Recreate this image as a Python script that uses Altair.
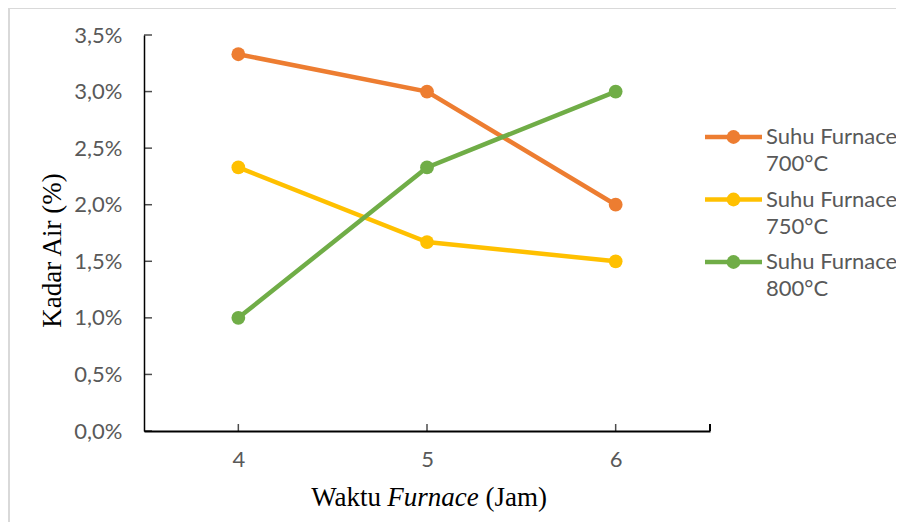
import altair as alt
import pandas as pd

# ---- data ----
waktu = ["4", "5", "6"]
series = ["Suhu Furnace 700°C", "Suhu Furnace 750°C", "Suhu Furnace 800°C"]
legend_line1 = ["Suhu Furnace", "Suhu Furnace", "Suhu Furnace"]
legend_line2 = ["700°C", "750°C", "800°C"]
kadar_700 = [0.0333, 0.0300, 0.0200]
kadar_750 = [0.0233, 0.0167, 0.0150]
kadar_800 = [0.0100, 0.0233, 0.0300]
y_ticks = [0.0, 0.005, 0.010, 0.015, 0.020, 0.025, 0.030, 0.035]
colors = ["#ED7D31", "#FFC000", "#70AD47"]

rows = []
for name, vals in zip(series, [kadar_700, kadar_750, kadar_800]):
    for w, v in zip(waktu, vals):
        rows.append({"waktu": w, "kadar": v, "seri": name})
df = pd.DataFrame(rows)
ticks_y = pd.DataFrame({"v": y_ticks})
ticks_x = pd.DataFrame({"waktu": waktu})
leg_df = pd.DataFrame({"seri": series, "l1": legend_line1, "l2": legend_line2})

W, H = 566, 396
LABEL_FONT = "Lato"
SERIF = "Liberation Serif"
GREY = "#595959"
TS = 27  # serif title size

color_scale = alt.Scale(domain=series, range=colors)
x_scale = alt.Scale(type="point", padding=0.5, domain=waktu)

x_enc = alt.X(
    "waktu:O",
    scale=x_scale,
    axis=alt.Axis(
        title=None, labelAngle=0, ticks=False, tickSize=0, labelPadding=18,
        labelFont=LABEL_FONT, labelFontSize=22, labelColor=GREY,
        domainColor="#000000", domainWidth=2,
    ),
)
y_scale = alt.Scale(domain=[0, 0.035], nice=False)
y_enc = alt.Y(
    "kadar:Q",
    scale=y_scale,
    axis=alt.Axis(
        values=y_ticks, grid=False, ticks=False, tickSize=0, labelPadding=22,
        labelExpr="replace(format(datum.value, '.1%'), '.', ',')",
        labelFont=LABEL_FONT, labelFontSize=22, labelColor=GREY,
        domainColor="#000000", domainWidth=1.5,
        title="Kadar Air (%)", titleFont=SERIF, titleFontSize=TS,
        titleFontWeight="normal", titleColor="#000000",
        titleAngle=-90, titleAlign="center", titleBaseline="middle",
        titleX=-92, titleY=215,
    ),
)

lines = alt.Chart(df).mark_line(
    strokeWidth=4.5,
    point=alt.OverlayMarkDef(filled=True, size=190, opacity=1),
).encode(x=x_enc, y=y_enc, color=alt.Color("seri:N", scale=color_scale, legend=None))

ytick_marks = alt.Chart(ticks_y).mark_tick(
    orient="horizontal", size=8, thickness=1.5, color="#000000"
).encode(y=alt.Y("v:Q", scale=y_scale), x=alt.value(4))

xtick_marks = alt.Chart(ticks_x).mark_tick(
    orient="vertical", size=7, thickness=1.5, color="#000000"
).encode(x=alt.X("waktu:O", scale=x_scale), y=alt.value(H - 3.5))

end_tick = alt.Chart(ticks_x).mark_rule(color="#000000", strokeWidth=1.5).encode(
    x=alt.value(W), y=alt.value(H - 7), y2=alt.value(H)
)

border_top = alt.Chart(ticks_x).mark_rule(color="#D9D9D9", strokeWidth=1.5).encode(
    x=alt.value(-135), x2=alt.value(770), y=alt.value(-27)
)
border_left = alt.Chart(ticks_x).mark_rule(color="#D9D9D9", strokeWidth=1.5).encode(
    x=alt.value(-135), y=alt.value(-27), y2=alt.value(500)
)

title_base = alt.Chart(ticks_x.head(1))
t1 = title_base.mark_text(font=SERIF, fontSize=TS, align="right", baseline="alphabetic",
                          color="#000000").encode(
    x=alt.value(237), y=alt.value(471), text=alt.value("Waktu"))
t2 = title_base.mark_text(font=SERIF, fontSize=TS, fontStyle="italic", align="center",
                          baseline="alphabetic", color="#000000").encode(
    x=alt.value(289), y=alt.value(471), text=alt.value("Furnace"))
t3 = title_base.mark_text(font=SERIF, fontSize=TS, align="left", baseline="alphabetic",
                          color="#000000").encode(
    x=alt.value(341.5), y=alt.value(471), text=alt.value("(Jam)"))

main = alt.layer(
    border_top, border_left, lines, ytick_marks, xtick_marks, end_tick, t1, t2, t3
)

# ---- legend, drawn through its own point scale ----
leg_y = alt.Y("seri:N", scale=alt.Scale(type="point", domain=series, range=[102, 227], padding=0),
              axis=None)
leg_color = alt.Color("seri:N", scale=color_scale, legend=None)
leg_base = alt.Chart(leg_df)
leg_line = leg_base.mark_rule(strokeWidth=4.5).encode(
    x=alt.value(561), x2=alt.value(618), y=leg_y, color=leg_color)
leg_pt = leg_base.mark_point(filled=True, size=190, opacity=1).encode(
    x=alt.value(589.5), y=leg_y, color=leg_color)
leg_t1 = leg_base.mark_text(font=LABEL_FONT, fontSize=22, color=GREY, align="left",
                            baseline="middle").encode(
    x=alt.value(622), y=leg_y, text="l1:N")
leg_t2 = leg_base.mark_text(font=LABEL_FONT, fontSize=22, color=GREY, align="left",
                            baseline="middle", dy=27).encode(
    x=alt.value(622), y=leg_y, text="l2:N")
legend = alt.layer(leg_line, leg_pt, leg_t1, leg_t2)

chart = alt.layer(main, legend).resolve_scale(y="independent").properties(
    width=W, height=H,
    autosize=alt.AutoSizeParams(type="none"),
    padding={"left": 136, "top": 27, "right": 186, "bottom": 91},
).configure(background="white").configure_view(stroke=None)

chart.save("out.html", embed_options={"renderer": "svg", "actions": False})
